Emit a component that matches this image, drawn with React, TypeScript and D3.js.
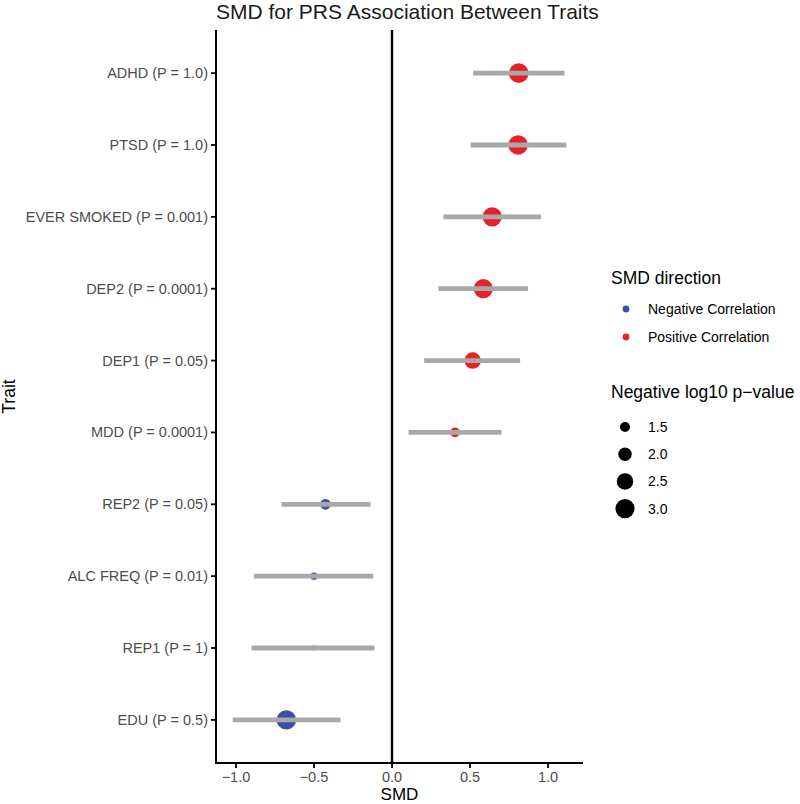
import React from "react";
import * as d3 from "d3";

const traits = [
  "ADHD (P = 1.0)",
  "PTSD (P = 1.0)",
  "EVER SMOKED (P = 0.001)",
  "DEP2 (P = 0.0001)",
  "DEP1 (P = 0.05)",
  "MDD (P = 0.0001)",
  "REP2 (P = 0.05)",
  "ALC FREQ (P = 0.01)",
  "REP1 (P = 1)",
  "EDU (P = 0.5)",
];
const smd = [0.812, 0.808, 0.642, 0.585, 0.517, 0.404, -0.426, -0.5, -0.502, -0.677];
const ciLow = [0.52, 0.504, 0.33, 0.297, 0.206, 0.106, -0.708, -0.885, -0.9, -1.021];
const ciHigh = [1.106, 1.117, 0.955, 0.872, 0.821, 0.702, -0.138, -0.12, -0.112, -0.33];
const negLogP = [3.1, 3.05, 3.0, 3.0, 2.5, 1.45, 1.6, 1.15, 0.9, 3.05];
const directionLabels = ["Negative Correlation", "Positive Correlation"];
const directionColors = ["#3B4FA5", "#E8202A"];
const sizeBreaks = [1.5, 2.0, 2.5, 3.0];
const xTicks = [-1.0, -0.5, 0.0, 0.5, 1.0];

const W = 800;
const H = 804;
const panel = { left: 216, right: 583, top: 30, bottom: 763 };
const FONT = "'Liberation Sans', Arial, Helvetica, sans-serif";

export default function App() {
  const lo = d3.min(ciLow) as number;
  const hi = d3.max(ciHigh) as number;
  const pad = (hi - lo) * 0.05;
  const x = d3.scaleLinear().domain([lo - pad, hi + pad]).range([panel.left, panel.right]);
  const y = d3.scalePoint<string>().domain(traits).range([panel.top, panel.bottom]).padding(0.6);
  const diam = d3.scaleSqrt().domain([1.5, 3.0]).range([10, 19.2]);
  const r = (v: number) => Math.max(1, diam(v) / 2);
  const color = (v: number) => (v < 0 ? directionColors[0] : directionColors[1]);

  const legendX = 626;
  const textX = 648;

  return (
    <svg width={W} height={H} style={{ display: "block", position: "absolute", left: 0, top: 0 }} fontFamily={FONT}>
      <rect x={0} y={0} width={W} height={H} fill="#ffffff" />
      {/* title */}
      <text x={216} y={19} fontSize={21} fill="#1a1a1a">
        SMD for PRS Association Between Traits
      </text>

      {/* zero line */}
      <line x1={x(0)} x2={x(0)} y1={panel.top} y2={panel.bottom} stroke="#000" strokeWidth={2.4} />

      {/* points */}
      {traits.map((t, i) => (
        <circle key={"p" + i} cx={x(smd[i])} cy={y(t)} r={r(negLogP[i])} fill={color(smd[i])} />
      ))}
      {/* CI segments */}
      {traits.map((t, i) => (
        <line
          key={"s" + i}
          x1={x(ciLow[i])}
          x2={x(ciHigh[i])}
          y1={y(t)}
          y2={y(t)}
          stroke="#A8A8A8"
          strokeWidth={4.8}
        />
      ))}

      {/* axes */}
      <line x1={panel.left} x2={panel.left} y1={panel.top} y2={panel.bottom + 1} stroke="#000" strokeWidth={2} />
      <line x1={panel.left - 1} x2={panel.right} y1={panel.bottom} y2={panel.bottom} stroke="#000" strokeWidth={2} />

      {traits.map((t, i) => (
        <g key={"yt" + i}>
          <line x1={panel.left - 5} x2={panel.left} y1={y(t)} y2={y(t)} stroke="#000" strokeWidth={1.8} />
          <text x={panel.left - 8} y={(y(t) as number) + 5} textAnchor="end" fontSize={14.5} fill="#4D4D4D">
            {t}
          </text>
        </g>
      ))}
      {xTicks.map((v, i) => (
        <g key={"xt" + i}>
          <line x1={x(v)} x2={x(v)} y1={panel.bottom} y2={panel.bottom + 5} stroke="#000" strokeWidth={1.8} />
          <text x={x(v)} y={782} textAnchor="middle" fontSize={14.5} fill="#4D4D4D">
            {v < 0 ? "\u2212" + Math.abs(v).toFixed(1) : v.toFixed(1)}
          </text>
        </g>
      ))}

      {/* axis titles */}
      <text x={(panel.left + panel.right) / 2} y={800} textAnchor="middle" fontSize={17} fill="#000">
        SMD
      </text>
      <text
        transform={`translate(15, ${(panel.top + panel.bottom) / 2}) rotate(-90)`}
        textAnchor="middle"
        fontSize={17.5}
        fill="#000"
      >
        Trait
      </text>

      {/* legend: direction */}
      <text x={611} y={284} fontSize={17.5} fill="#000">
        SMD direction
      </text>
      {directionLabels.map((lab, i) => (
        <g key={"dl" + i}>
          <circle cx={legendX} cy={309 + i * 28} r={3.4} fill={directionColors[i]} />
          <text x={textX} y={309 + i * 28 + 5} fontSize={14} fill="#000">
            {lab}
          </text>
        </g>
      ))}

      {/* legend: size */}
      <text x={611} y={398} fontSize={17.5} fill="#000">
        Negative log10 p{"\u2212"}value
      </text>
      {sizeBreaks.map((v, i) => (
        <g key={"sl" + i}>
          <circle cx={legendX - 1} cy={427 + i * 27.2} r={r(v)} fill="#000" />
          <text x={textX} y={427 + i * 27.2 + 5} fontSize={14} fill="#000">
            {v.toFixed(1)}
          </text>
        </g>
      ))}
    </svg>
  );
}
